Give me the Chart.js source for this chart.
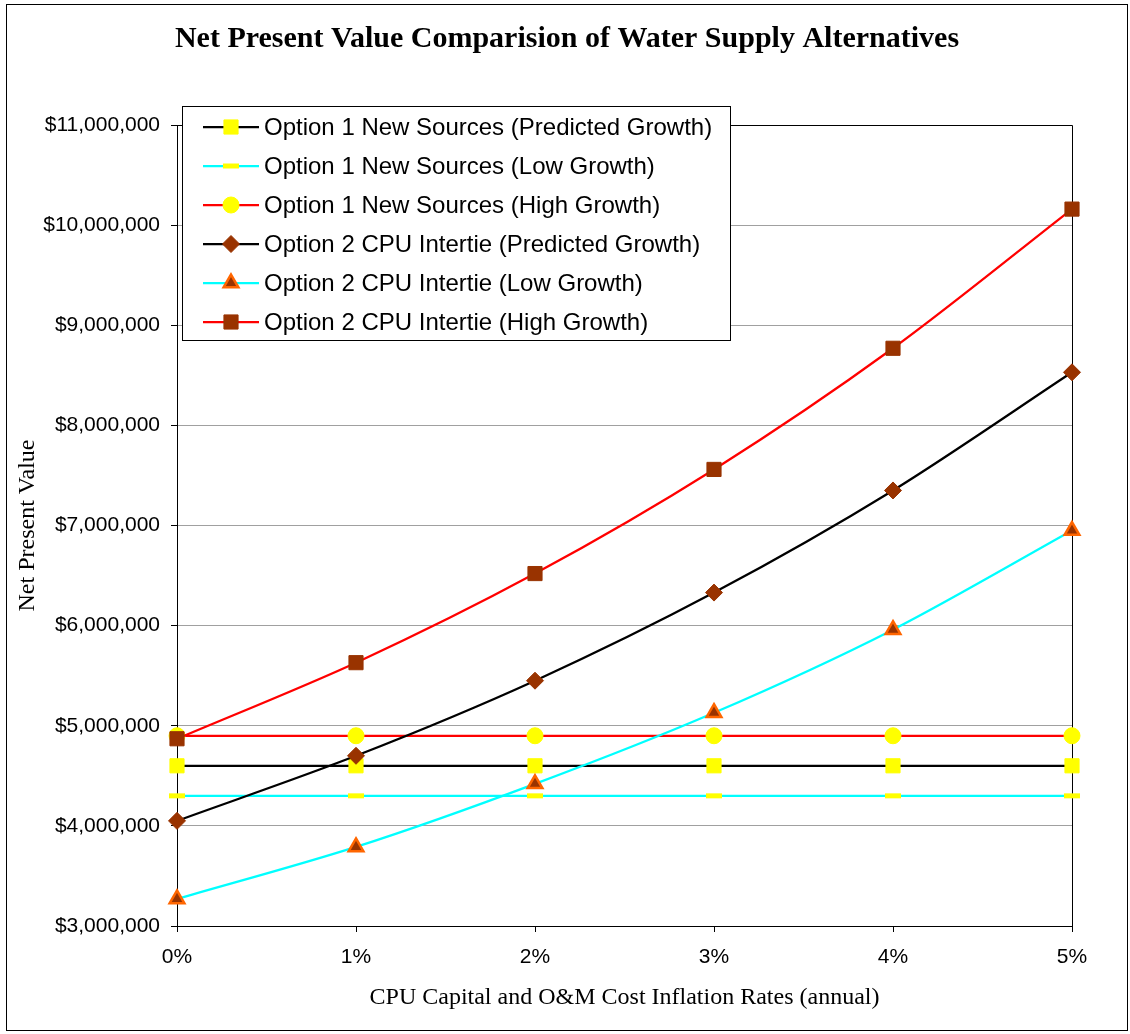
<!DOCTYPE html>
<html>
<head>
<meta charset="utf-8">
<title>Net Present Value Comparision of Water Supply Alternatives</title>
<script src="https://cdn.jsdelivr.net/npm/chart.js@4.4.1/dist/chart.umd.min.js"></script>
<style>
  html, body { margin: 0; padding: 0; background: #fff; }
  #wrap { width: 1130px; height: 1034px; }
</style>
</head>
<body>
<div id="wrap"><canvas id="npvChart" width="1130" height="1034"></canvas></div>
<script>
'use strict';

// inflation rates on the x axis
var inflationLabels = ['0%', '1%', '2%', '3%', '4%', '5%'];

// net present values, dollars
var opt1Predicted = [4600000, 4600000, 4600000, 4600000, 4600000, 4600000];
var opt1Low = [4300000, 4300000, 4300000, 4300000, 4300000, 4300000];
var opt1High = [4900000, 4900000, 4900000, 4900000, 4900000, 4900000];
var opt2Predicted = [4050000, 4700000, 5450000, 6330000, 7350000, 8530000];
var opt2Low = [3270000, 3790000, 4420000, 5130000, 5960000, 6950000];
var opt2High = [4870000, 5630000, 6520000, 7560000, 8770000, 10160000];

var seriesNames = [
  'Option 1 New Sources (Predicted Growth)',
  'Option 1 New Sources (Low Growth)',
  'Option 1 New Sources (High Growth)',
  'Option 2 CPU Intertie (Predicted Growth)',
  'Option 2 CPU Intertie (Low Growth)',
  'Option 2 CPU Intertie (High Growth)'
];

var chartTitle = 'Net Present Value Comparision of Water Supply Alternatives';

var yTickMin = 3000000;
var yTickMax = 11000000;
var yTickStep = 1000000;

var SANS = "'Liberation Sans', Arial, sans-serif";
var SERIF = "'Liberation Serif', 'Times New Roman', serif";
var BROWN = '#993300';

var makeSeries = function(i, data, lineColor, pStyle, pRadius, pFill, pBorder, pBorderWidth) {
  return {
    label: seriesNames[i],
    data: data,
    borderColor: lineColor,
    backgroundColor: pFill,
    borderWidth: 2.25,
    tension: 0.3,
    pointStyle: pStyle,
    pointRadius: pRadius,
    pointHoverRadius: pRadius,
    pointBackgroundColor: pFill,
    pointBorderColor: pBorder,
    pointBorderWidth: pBorderWidth,
    order: 5 - i
  };
};

var datasets = [
  makeSeries(0, opt1Predicted, '#000000', 'rect', 10, '#FFFF00', '#FFFF00', 1),
  makeSeries(1, opt1Low, '#00FFFF', 'line', 8, '#FFFF00', '#FFFF00', 5),
  makeSeries(2, opt1High, '#FF0000', 'circle', 8, '#FFFF00', '#FFFF00', 1),
  makeSeries(3, opt2Predicted, '#000000', 'rectRot', 8.5, BROWN, BROWN, 1),
  makeSeries(4, opt2Low, '#00FFFF', 'triangle', 8.5, BROWN, '#FF6600', 2.5),
  makeSeries(5, opt2High, '#FF0000', 'rect', 10, BROWN, BROWN, 1)
];

// white page with a thin frame, title, plot-area box, and the boxed legend
var framePlugin = {
  id: 'frame',
  beforeDraw: function(chart) {
    var c = chart.ctx;
    c.save();
    c.fillStyle = '#ffffff';
    c.fillRect(0, 0, chart.width, chart.height);
    c.strokeStyle = '#000000';
    c.lineWidth = 1;
    c.strokeRect(6.5, 4.5, 1121, 1026);
    c.fillStyle = '#000000';
    c.font = 'bold 30px ' + SERIF;
    c.textAlign = 'center';
    c.textBaseline = 'alphabetic';
    c.fillText(chartTitle, 567, 47);
    c.restore();
  },
  beforeDatasetsDraw: function(chart) {
    var a = chart.chartArea;
    var c = chart.ctx;
    c.save();
    c.strokeStyle = '#000000';
    c.lineWidth = 1;
    c.beginPath();
    c.moveTo(a.left, Math.round(a.top) + 0.5);
    c.lineTo(Math.round(a.right) + 0.5, Math.round(a.top) + 0.5);
    c.lineTo(Math.round(a.right) + 0.5, a.bottom);
    c.stroke();
    c.restore();
  },
  afterDraw: function(chart) {
    var c = chart.ctx;
    var boxL = 182, boxT = 106, boxW = 549, boxH = 235;
    c.save();
    c.fillStyle = '#ffffff';
    c.fillRect(boxL, boxT, boxW, boxH);
    c.strokeStyle = '#000000';
    c.lineWidth = 1;
    c.strokeRect(boxL + 0.5, boxT + 0.5, boxW - 1, boxH - 1);
    c.font = '24px ' + SANS;
    c.textBaseline = 'middle';
    c.textAlign = 'left';
    chart.data.datasets.forEach(function(ds, i) {
      var y = 127 + i * 39;
      c.strokeStyle = ds.borderColor;
      c.lineWidth = ds.borderWidth;
      c.beginPath();
      c.moveTo(203, y);
      c.lineTo(259, y);
      c.stroke();
      c.fillStyle = ds.pointBackgroundColor;
      c.strokeStyle = ds.pointBorderColor;
      c.lineWidth = ds.pointBorderWidth;
      Chart.helpers.drawPoint(c, {
        pointStyle: ds.pointStyle,
        radius: ds.pointRadius,
        rotation: 0,
        borderWidth: ds.pointBorderWidth
      }, 231, y);
      c.fillStyle = '#000000';
      c.fillText(ds.label, 264, y + 1);
    });
    c.restore();
  }
};

var ctx = document.getElementById('npvChart').getContext('2d');

var npvChart = new Chart(ctx, {
  type: 'line',
  data: {
    labels: inflationLabels,
    datasets: datasets
  },
  options: {
    responsive: false,
    animation: false,
    devicePixelRatio: 1,
    layout: { padding: { left: 0, right: 58, top: 125, bottom: 0 } },
    plugins: {
      legend: { display: false },
      tooltip: { enabled: false },
      title: { display: false }
    },
    scales: {
      x: {
        type: 'category',
        offset: false,
        afterFit: function(scale) { scale.height = 108; },
        grid: {
          drawOnChartArea: false,
          drawTicks: true,
          tickLength: 6,
          tickColor: '#000000'
        },
        border: { color: '#000000', width: 1 },
        ticks: {
          color: '#000000',
          font: { family: SANS, size: 21 },
          padding: 13,
          maxRotation: 0
        },
        title: {
          display: true,
          text: 'CPU Capital and O&M Cost Inflation Rates (annual)',
          color: '#000000',
          font: { family: SERIF, size: 24 },
          padding: { top: 0, bottom: 22 }
        }
      },
      y: {
        type: 'linear',
        min: yTickMin,
        max: yTickMax,
        afterFit: function(scale) { scale.width = 177; },
        grid: {
          color: '#a0a0a0',
          lineWidth: 1,
          tickLength: 6,
          tickColor: '#000000'
        },
        border: { color: '#000000', width: 1 },
        ticks: {
          stepSize: yTickStep,
          color: '#000000',
          font: { family: SANS, size: 21 },
          padding: 11,
          callback: function(v) { return '$' + Number(v).toLocaleString('en-US'); }
        },
        title: {
          display: true,
          text: 'Net Present Value',
          color: '#000000',
          font: { family: SERIF, size: 24 },
          padding: { top: 13, bottom: 0 }
        }
      }
    }
  },
  plugins: [framePlugin]
});
</script>
</body>
</html>
